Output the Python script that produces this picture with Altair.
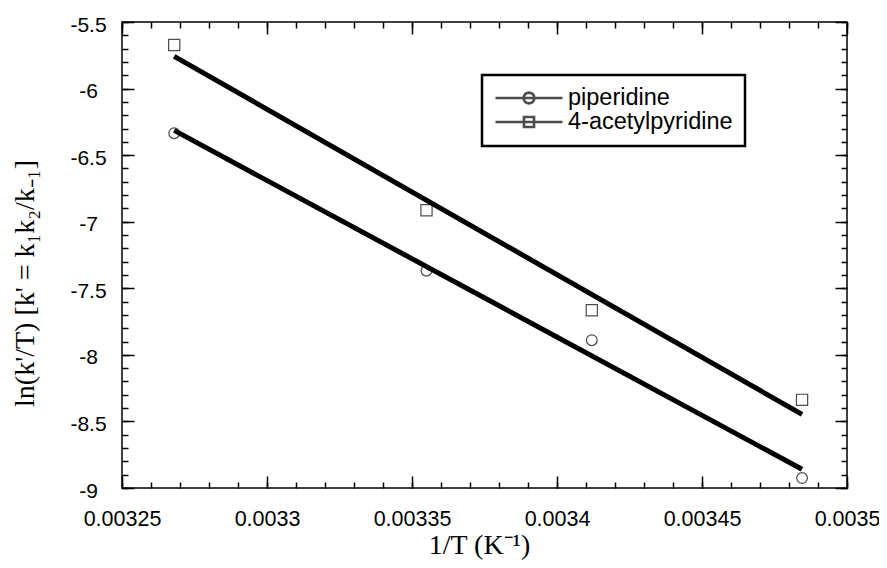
import math
import altair as alt
import pandas as pd

# ---- data ----
inv_T = [0.003268, 0.003355, 0.003412, 0.0034845]
piperidine = [-6.335, -7.368, -7.89, -8.925]
acetylpyridine = [-5.673, -6.914, -7.665, -8.338]
series_names = ["piperidine", "4-acetylpyridine"]

x_major = [0.00325, 0.0033, 0.00335, 0.0034, 0.00345, 0.0035]
y_major = [-9, -8.5, -8, -7.5, -7, -6.5, -6, -5.5]
x_minor = [round(0.00325 + i * 0.00001, 5) for i in range(26)]
y_minor = [round(-9 + i * 0.1, 1) for i in range(36)]

df = pd.DataFrame({
    "x": inv_T * 2,
    "y": piperidine + acetylpyridine,
    "series": [series_names[0]] * 4 + [series_names[1]] * 4,
})

W, H = 725, 466
xs = alt.Scale(domain=[0.00325, 0.0035], nice=False, zero=False)
ys = alt.Scale(domain=[-9, -5.5], nice=False, zero=False)


def tick_axis(orient, values, size, offset):
    return alt.Axis(orient=orient, values=values, tickSize=size, tickWidth=1.5,
                    tickColor="black", labels=False, domain=False, grid=False,
                    title=None, offset=offset)


x_label_axis = alt.Axis(
    orient="bottom", values=x_major, labelExpr="'' + datum.value",
    labelFont="Liberation Sans", labelFontSize=21.5, labelColor="black",
    labelPadding=37, labelBaseline="alphabetic", labelOverlap=False,
    labelFlush=False, ticks=False, tickSize=0, domain=False, grid=False,
    title="1/T (K⁻¹)", titleFont="Liberation Serif", titleFontSize=28,
    titleFontWeight="normal", titleColor="black", titleX=357, titleY=65,
    titleAlign="center", titleBaseline="alphabetic",
)
y_label_axis = alt.Axis(
    orient="left", values=y_major, labelExpr="'' + datum.value",
    labelFont="Liberation Sans", labelFontSize=21, labelColor="black",
    labelPadding=34, labelAlign="center", labelBaseline="middle",
    labelOffset=3, labelOverlap=False, labelFlush=False, ticks=False,
    tickSize=0, domain=False, grid=False,
    title="ln(k'/T) [k' = k₁k₂/k₋₁]", titleFont="Liberation Serif",
    titleFontSize=28, titleFontWeight="normal", titleColor="black",
    titleAngle=270, titleX=-89, titleY=261, titleAlign="center",
    titleBaseline="alphabetic",
)

base = alt.Chart(df)

pts_circle = base.transform_filter(alt.datum.series == series_names[0]).mark_point(
    shape="circle", filled=False, color="black", size=115, strokeWidth=1.2
).encode(
    x=alt.X("x:Q", scale=xs, axis=x_label_axis),
    y=alt.Y("y:Q", scale=ys, axis=y_label_axis),
)

pts_square = base.transform_filter(alt.datum.series == series_names[1]).mark_point(
    shape="square", filled=False, color="black", size=125, strokeWidth=1.2
).encode(
    x=alt.X("x:Q", scale=xs, axis=tick_axis("top", x_major, 12, -H)),
    y=alt.Y("y:Q", scale=ys, axis=tick_axis("right", y_major, 12, -W)),
)

line_circle = base.transform_filter(alt.datum.series == series_names[0]).transform_regression(
    "x", "y"
).mark_line(color="black", strokeWidth=5).encode(
    x=alt.X("x:Q", scale=xs, axis=tick_axis("top", x_minor, 6, -H)),
    y=alt.Y("y:Q", scale=ys, axis=tick_axis("right", y_minor, 6, -W)),
)

line_square = base.transform_filter(alt.datum.series == series_names[1]).transform_regression(
    "x", "y"
).mark_line(color="black", strokeWidth=5).encode(
    x=alt.X("x:Q", scale=xs, axis=tick_axis("bottom", x_major, 12, -H)),
    y=alt.Y("y:Q", scale=ys, axis=tick_axis("left", y_major, 12, -W)),
)


def poly_circle(r, n=20):
    pts = [(r * math.cos(2 * math.pi * k / n), r * math.sin(2 * math.pi * k / n)) for k in range(n)]
    return "M%.4f,%.4f" % pts[0] + "".join("L%.4f,%.4f" % p for p in pts[1:]) + "Z"


sym_circle = "M-1,0H1" + poly_circle(0.16)
sym_square = "M-1,0H1M-0.15,-0.15H0.15V0.15H-0.15Z"

legend_layer = base.transform_filter("false").mark_point(
    filled=False, color="black", strokeWidth=2.6
).encode(
    x=alt.X("x:Q", scale=xs, axis=tick_axis("bottom", x_minor, 6, -H)),
    y=alt.Y("y:Q", scale=ys, axis=tick_axis("left", y_minor, 6, -W)),
    shape=alt.Shape(
        "series:N",
        scale=alt.Scale(domain=series_names, range=[sym_circle, sym_square]),
        legend=alt.Legend(
            orient="none", legendX=360, legendY=53, title=None,
            labelFont="Liberation Sans", labelFontSize=23.5, labelColor="black",
            labelLimit=400, labelOffset=4, symbolSize=4489,
            symbolStrokeColor="black", symbolStrokeWidth=2.6,
            symbolFillColor="transparent", clipHeight=22, rowPadding=0,
            padding=12, fillColor="white", strokeColor="black",
        ),
    ),
)

chart = alt.layer(
    pts_circle, pts_square, line_circle, line_square, legend_layer
).resolve_axis(
    x="independent", y="independent"
).properties(
    width=W, height=H,
    autosize=alt.AutoSizeParams(type="none"),
    padding={"left": 114, "top": 14, "right": 32, "bottom": 78},
    background="white",
).configure_view(stroke="black", strokeWidth=1.5).configure_legend(strokeWidth=2.5)

chart.save("out.html", embed_options={"renderer": "svg", "actions": False})
